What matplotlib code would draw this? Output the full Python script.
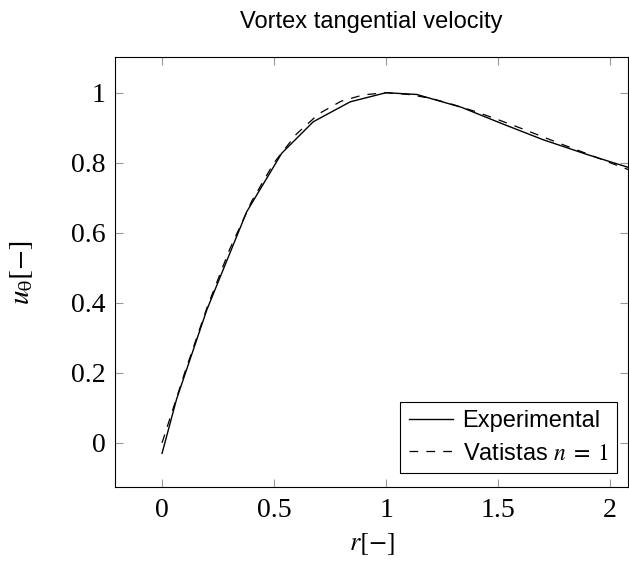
import matplotlib
matplotlib.use("Agg")
import matplotlib.pyplot as plt

plt.rcParams['font.family'] = ['Liberation Serif', 'DejaVu Serif']
plt.rcParams['mathtext.fontset'] = 'stix'

# Data
r_exp = [0.0, 0.065, 0.2, 0.378, 0.534, 0.675, 0.84, 1.0, 1.137, 1.338, 1.52, 1.70, 1.9, 2.1]
u_exp = [-0.03, 0.125, 0.38, 0.66, 0.827, 0.917, 0.974, 1.0, 0.995, 0.958, 0.911, 0.866, 0.823, 0.783]

r_vat = [0.0, 0.1, 0.2, 0.3, 0.4, 0.5, 0.6, 0.7, 0.8, 0.9, 1.0, 1.1, 1.2,
         1.3, 1.4, 1.5, 1.6, 1.7, 1.8, 1.9, 2.0, 2.1]
u_vat = [0.0, 0.198, 0.385, 0.55, 0.69, 0.80, 0.882, 0.94, 0.976, 0.994, 1.0,
         0.995, 0.984, 0.966, 0.946, 0.923, 0.899, 0.874, 0.849, 0.825, 0.80, 0.776]

xticks = [0, 0.5, 1, 1.5, 2]
xticklabels = ['0', '0.5', '1', '1.5', '2']
yticks = [0, 0.2, 0.4, 0.6, 0.8, 1.0]
yticklabels = ['0', '0.2', '0.4', '0.6', '0.8', '1']

fig = plt.figure(figsize=(6.29, 5.64), dpi=100)
ax = fig.add_axes([115/629, (564-487.3)/564, (628-115)/629, (487.3-57)/564])

ax.plot(r_exp, u_exp, color='black', lw=1.0, label='Experimental')
ax.plot(r_vat, u_vat, color='black', lw=0.9, dashes=(7, 6.5), label=r'Vatistas $n\;=\;1$')

ax.set_xlim(-0.21, 2.08)
ax.set_ylim(-0.127, 1.102)
ax.set_xticks(xticks)
ax.set_xticklabels(xticklabels)
ax.set_yticks(yticks)
ax.set_yticklabels(yticklabels)
ax.tick_params(direction='in', length=6, width=0.8, color='#999999',
               top=True, right=True, labelsize=20)
ax.tick_params(axis='x', pad=8)
ax.tick_params(axis='y', pad=7)
for s in ax.spines.values():
    s.set_linewidth(0.8)

ax.set_xlabel(r'$r[-]$', fontsize=19)
ax.xaxis.set_label_coords(0.5, -0.103)
ax.set_ylabel(r'$u_{\mathrm{\theta}}[-]$', fontsize=21)
ax.yaxis.set_label_coords(-0.156, 0.5)
ax.set_title('Vortex tangential velocity', family='Liberation Sans', fontsize=17, pad=21)

leg = ax.legend(loc='lower right', prop={'family': 'Liberation Sans', 'size': 17},
                fancybox=False, edgecolor='black', framealpha=1,
                handlelength=1.86, handletextpad=0.42, borderpad=0.35,
                labelspacing=0.45, borderaxespad=0,
                bbox_to_anchor=((617-115)/513, (487.3-473)/430.3))
leg.get_frame().set_linewidth(0.8)

fig.savefig('out.png', dpi=100)
